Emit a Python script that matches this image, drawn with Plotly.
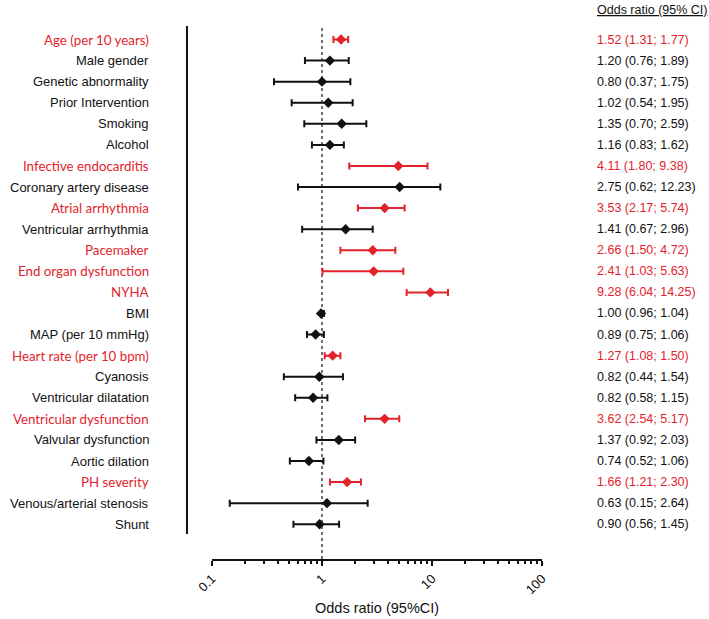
import plotly.graph_objects as go

labels = ["Age (per 10 years)", "Male gender", "Genetic abnormality", "Prior Intervention",
          "Smoking", "Alcohol", "Infective endocarditis", "Coronary artery disease",
          "Atrial arrhythmia", "Ventricular arrhythmia", "Pacemaker", "End organ dysfunction",
          "NYHA", "BMI", "MAP (per 10 mmHg)", "Heart rate (per 10 bpm)", "Cyanosis",
          "Ventricular dilatation", "Ventricular dysfunction", "Valvular dysfunction",
          "Aortic dilation", "PH severity", "Venous/arterial stenosis", "Shunt"]
significant = [True, False, False, False, False, False, True, False, True, False, True, True,
               True, False, False, True, False, False, True, False, False, True, False, False]
# plotted estimates (as drawn)
est = [1.49, 1.18, 1.00, 1.14, 1.51, 1.18, 4.94, 5.08, 3.71, 1.64, 2.89, 2.95,
       9.66, 0.98, 0.875, 1.25, 0.945, 0.83, 3.71, 1.42, 0.76, 1.69, 1.11, 0.95]
ci_low = [1.27, 0.70, 0.366, 0.53, 0.69, 0.81, 1.77, 0.605, 2.12, 0.66, 1.47, 1.01,
          5.88, 0.96, 0.73, 1.06, 0.45, 0.57, 2.46, 0.89, 0.51, 1.18, 0.145, 0.55]
ci_high = [1.73, 1.75, 1.81, 1.90, 2.53, 1.58, 9.1, 11.9, 5.64, 2.89, 4.64, 5.49,
           13.97, 1.04, 1.04, 1.47, 1.55, 1.12, 5.04, 2.0, 1.03, 2.26, 2.6, 1.43]
or_text = ["1.52 (1.31; 1.77)", "1.20 (0.76; 1.89)", "0.80 (0.37; 1.75)", "1.02 (0.54; 1.95)",
           "1.35 (0.70; 2.59)", "1.16 (0.83; 1.62)", "4.11 (1.80; 9.38)", "2.75 (0.62; 12.23)",
           "3.53 (2.17; 5.74)", "1.41 (0.67; 2.96)", "2.66 (1.50; 4.72)", "2.41 (1.03; 5.63)",
           "9.28 (6.04; 14.25)", "1.00 (0.96; 1.04)", "0.89 (0.75; 1.06)", "1.27 (1.08; 1.50)",
           "0.82 (0.44; 1.54)", "0.82 (0.58; 1.15)", "3.62 (2.54; 5.17)", "1.37 (0.92; 2.03)",
           "0.74 (0.52; 1.06)", "1.66 (1.21; 2.30)", "0.63 (0.15; 2.64)", "0.90 (0.56; 1.45)"]
major_ticks = [0.1, 1, 10, 100]
major_text = ["0.1", "1", "10", "100"]
minor_ticks = [0.2, 0.3, 0.4, 0.5, 0.6, 0.7, 0.8, 0.9, 2, 3, 4, 5, 6, 7, 8, 9,
               20, 30, 40, 50, 60, 70, 80, 90]

RED = "#e3232c"
BLACK = "#111111"
ARIAL = "Liberation Sans, Arial, sans-serif"
CALIBRI = "Lato, Carlito, Calibri, sans-serif"

fig = go.Figure()
for flag, color in [(False, BLACK), (True, RED)]:
    idx = [i for i in range(len(labels)) if significant[i] == flag]
    fig.add_trace(go.Scatter(
        x=[est[i] for i in idx], y=[i for i in idx], mode="markers",
        marker=dict(symbol="diamond", size=8, color=color),
        error_x=dict(type="data", symmetric=False,
                     array=[ci_high[i] - est[i] for i in idx],
                     arrayminus=[est[i] - ci_low[i] for i in idx],
                     color=color, thickness=2, width=3.5),
        showlegend=False, hoverinfo="skip"))

ann = []
for i, lab in enumerate(labels):
    sig = significant[i]
    ann.append(dict(x=-0.1848, xref="paper", y=i, yref="y", text=lab, showarrow=False,
                    xanchor="right", yanchor="middle",
                    font=dict(family=CALIBRI if sig else ARIAL, size=13.3 if sig else 13,
                              color=RED if sig else BLACK)))
    ann.append(dict(x=1.1606, xref="paper", y=i, yref="y", text=or_text[i], showarrow=False,
                    xanchor="left", yanchor="middle",
                    font=dict(family=ARIAL, size=12.5, color=RED if sig else BLACK)))
ann.append(dict(x=1.1606, xref="paper", y=1.034, yref="paper", text="<u>Odds ratio (95% CI)</u>",
                showarrow=False, xanchor="left", yanchor="middle",
                font=dict(family=ARIAL, size=12.5, color=BLACK)))
ann.append(dict(x=0.5, xref="paper", y=-0.0923, yref="paper", text="Odds ratio (95%CI)",
                showarrow=False, xanchor="center", yanchor="middle",
                font=dict(family=ARIAL, size=14.5, color=BLACK)))

shapes = [
    dict(type="line", xref="paper", yref="paper", x0=-0.0758, x1=-0.0758, y0=0.047, y1=1.004,
         line=dict(color=BLACK, width=2)),
    dict(type="line", xref="x", yref="paper", x0=1, x1=1, y0=0, y1=1,
         line=dict(color=BLACK, width=1.2, dash="dot"), layer="below"),
]

fig.update_layout(
    width=709, height=619, margin=dict(l=212, r=167, t=28, b=60),
    plot_bgcolor="white", paper_bgcolor="white",
    annotations=ann, shapes=shapes,
    xaxis=dict(type="log", range=[-1, 2], tickvals=major_ticks, ticktext=major_text,
               tickangle=-45, ticks="outside", ticklen=5, tickwidth=2, tickcolor=BLACK,
               showline=True, linewidth=2, linecolor=BLACK, showgrid=False, zeroline=False,
               tickfont=dict(family=ARIAL, size=13, color=BLACK),
               minor=dict(tickmode="array", tickvals=minor_ticks, ticks="outside",
                          ticklen=3, tickwidth=1.5, tickcolor=BLACK, showgrid=False)),
    yaxis=dict(range=[24.65, -0.546], showline=False, showticklabels=False, showgrid=False,
               zeroline=False, ticks=""),
)
fig.write_html("out.html", config={"displayModeBar": False},
               post_script="document.body.style.margin='0';document.body.style.overflow='hidden';")
